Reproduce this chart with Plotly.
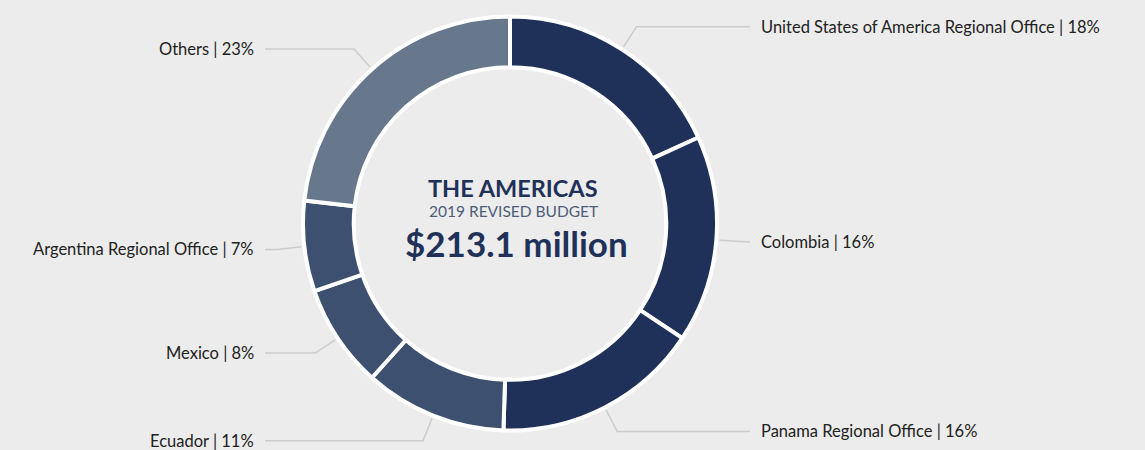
import math
import plotly.graph_objects as go

# ---- data ----
regions = ["United States of America Regional Office", "Colombia", "Panama Regional Office",
           "Ecuador", "Mexico", "Argentina Regional Office", "Others"]
shares = [18, 16, 16, 11, 8, 7, 23]
slice_colors = ["#1f3159", "#1f3159", "#1f3159", "#3d5070", "#3d5070", "#3d5070", "#68788c"]
center_title = "THE AMERICAS"
center_sub = "2019 REVISED BUDGET"
center_amount = "$213.1 million"

# ---- layout constants (pixels) ----
W, H = 1145, 450
CX, CY, R = 510, 223.5, 207
HOLE = 0.755
R_LABEL = 234
X_END_RIGHT, X_END_LEFT = 750, 265
TEXT_GAP = 9
BG = "#ececec"
LINE = "#cccccc"
FONT = "Lato"

fig = go.Figure()

fig.add_trace(go.Pie(
    values=shares, labels=regions, sort=False, direction="clockwise", rotation=0,
    hole=HOLE, textinfo="none", hoverinfo="label+percent", showlegend=False,
    marker=dict(colors=slice_colors, line=dict(color="white", width=4)),
    domain=dict(x=[(CX - R) / W, (CX + R) / W],
                y=[(H - CY - R) / H, (H - CY + R) / H]),
))

total = sum(shares)
cum = 0
annotations = []
for name, v in zip(regions, shares):
    mid = (cum + v / 2) / total * 2 * math.pi
    cum += v
    s, c = math.sin(mid), math.cos(mid)
    x0, y0 = CX + (R + 3) * s, CY - (R + 3) * c
    ly = min(CY - R_LABEL * c, H - 8)
    ex = CX + R_LABEL * s
    right = s >= 0
    xend = X_END_RIGHT if right else X_END_LEFT
    if right:
        ex = min(ex, xend)
    else:
        ex = max(ex, xend)
    fig.add_trace(go.Scatter(x=[x0, ex, xend], y=[y0, ly, ly], mode="lines",
                             line=dict(color=LINE, width=1.5), hoverinfo="skip",
                             showlegend=False))
    annotations.append(dict(
        x=xend + (TEXT_GAP if right else -TEXT_GAP), y=ly, xref="x", yref="y",
        text=f"{name} | {v}%", showarrow=False,
        xanchor="left" if right else "right", yanchor="middle",
        font=dict(family=FONT, size=16.5, color="#222222")))

annotations += [
    dict(x=CX + 3, y=188, xref="x", yref="y", text=f"<b>{center_title}</b>", showarrow=False,
         font=dict(family=FONT, size=23.5, color="#1f3159"), xanchor="center", yanchor="middle"),
    dict(x=CX + 3, y=211, xref="x", yref="y", text=center_sub, showarrow=False,
         font=dict(family=FONT, size=15.5, color="#4d5d7a"), xanchor="center", yanchor="middle"),
    dict(x=CX + 6, y=243, xref="x", yref="y", text=f"<b>{center_amount}</b>", showarrow=False,
         font=dict(family=FONT, size=35, color="#1f3159"), xanchor="center", yanchor="middle"),
]

fig.update_layout(
    width=W, height=H, margin=dict(l=0, r=0, t=0, b=0),
    paper_bgcolor=BG, plot_bgcolor="rgba(0,0,0,0)",
    xaxis=dict(range=[0, W], visible=False, fixedrange=True),
    yaxis=dict(range=[H, 0], visible=False, fixedrange=True),
    annotations=annotations, showlegend=False,
)

fig.write_html("out.html", config={"displayModeBar": False},
               post_script="document.body.style.margin='0';document.body.style.overflow='hidden';"
                           "document.body.style.background='#ececec';")
